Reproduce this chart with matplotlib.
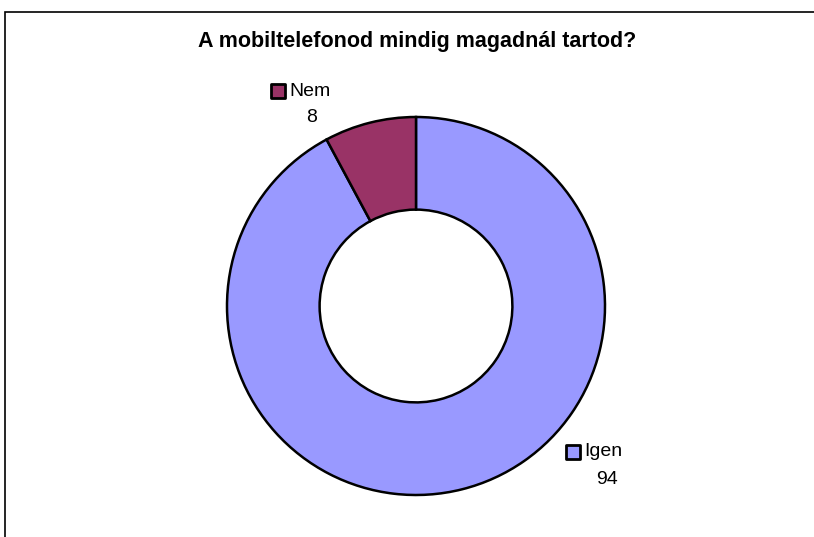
import matplotlib.pyplot as plt
from matplotlib.patches import Rectangle

# data
labels = ["Igen", "Nem"]
values = [94, 8]
colors = ["#9999FF", "#993366"]
title = "A mobiltelefonod mindig magadnál tartod?"

plt.rcParams["font.family"] = ["Liberation Sans", "DejaVu Sans"]

W, H = 814, 537
fig = plt.figure(figsize=(W / 100, H / 100), dpi=100)
ax = fig.add_axes([0, 0, 1, 1])
ax.set_xlim(0, W)
ax.set_ylim(0, H)
ax.set_aspect("equal")
ax.axis("off")

# outer chart border (cut off at right and bottom like the original)
ax.add_patch(Rectangle((5, -20), W + 20, H - 12 + 20, fill=False,
                       edgecolor="black", linewidth=1.2))

cx, cy, r = 416, H - 306, 189
ax.pie(values, colors=colors, startangle=90, counterclock=False,
       center=(cx, cy), radius=r,
       wedgeprops=dict(width=r * 0.49, edgecolor="black", linewidth=1.8))

ax.set_xlim(0, W)
ax.set_ylim(0, H)

ax.text(417, H - 42, title, ha="center", va="center",
        fontsize=15.5, fontweight="bold")

# data labels: legend key + category name + value
label_pos = {"Nem": (278, H - 91), "Igen": (573, H - 452)}
for lab, val, col in zip(labels, values, colors):
    mx, my = label_pos[lab]
    ax.scatter([mx], [my], marker="s", s=105, color=col,
               edgecolor="black", linewidth=2.0, zorder=5)
    ax.text(mx + 11, my, lab, ha="left", va="center", fontsize=14)
    ax.text(mx + 34, my - 27, str(val), ha="center", va="center", fontsize=14)

fig.savefig("out.png", dpi=100)
